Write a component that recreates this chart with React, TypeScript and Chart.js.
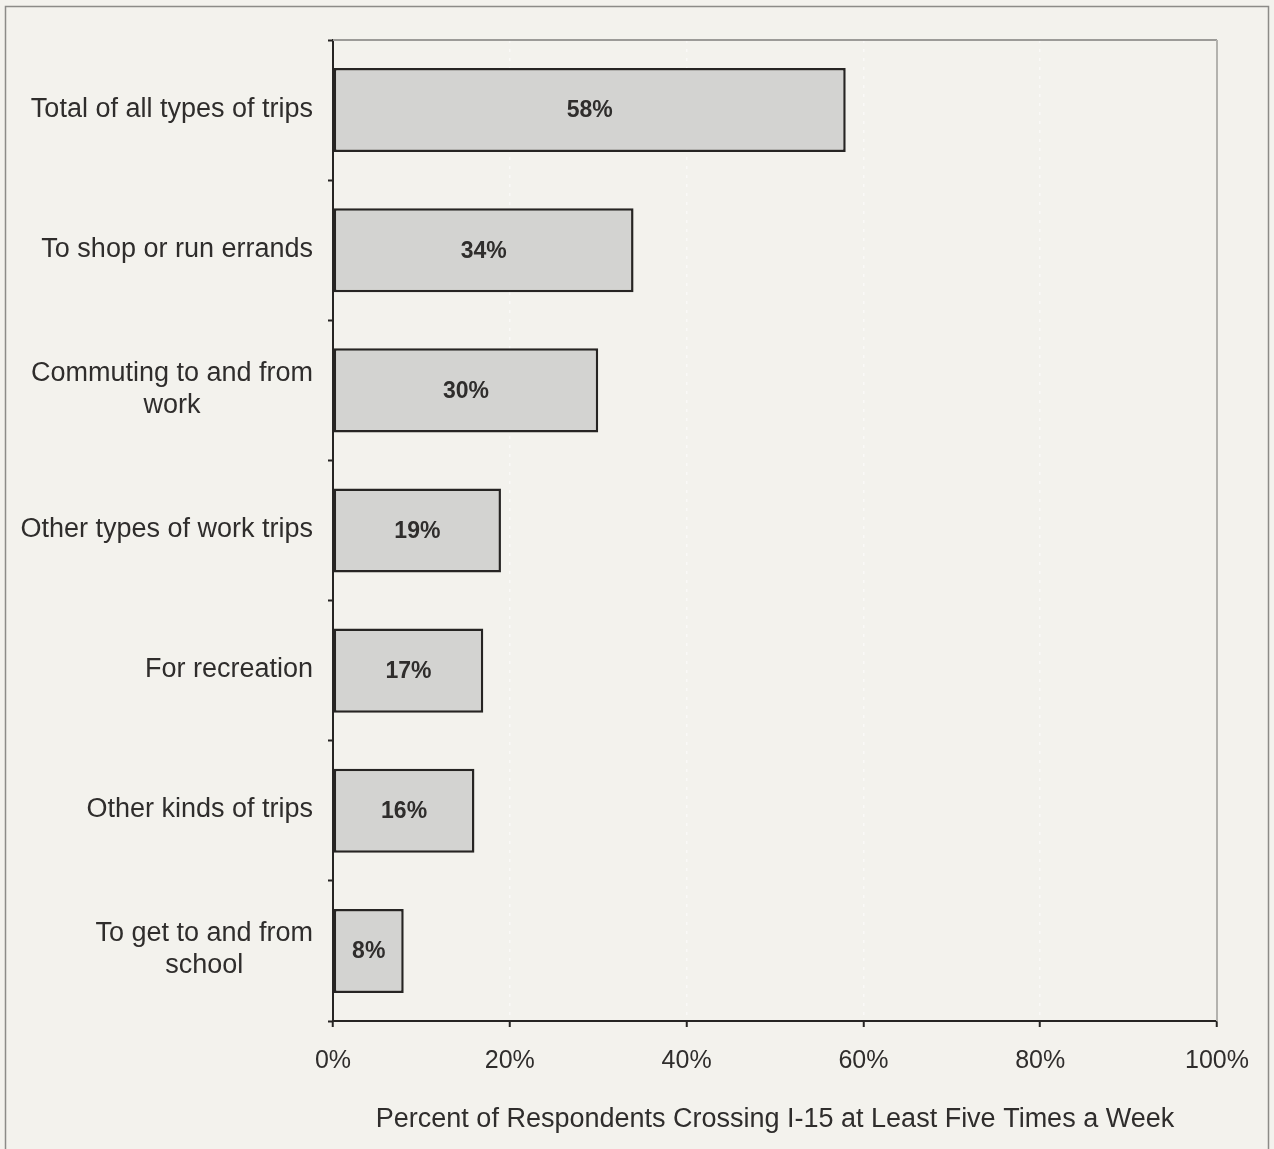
import React, { useEffect, useRef } from "react";
import { Chart, registerables } from "chart.js";

Chart.register(...registerables);

const categories: string[][] = [
  ["Total of all types of trips"],
  ["To shop or run errands"],
  ["Commuting to and from", "work"],
  ["Other types of work trips"],
  ["For recreation"],
  ["Other kinds of trips"],
  ["To get to and from", "school"],
];
const percentValues: number[] = [58, 34, 30, 19, 17, 16, 8];
const xTickValues: number[] = [0, 20, 40, 60, 80, 100];
const xAxisTitle = "Percent of Respondents Crossing I-15 at Least Five Times a Week";

const FONT = "'Liberation Sans', Arial, Helvetica, sans-serif";
const TEXT = "#2f2d2c";
const BG = "#f3f2ed";

export default function App() {
  const ref = useRef<HTMLCanvasElement | null>(null);

  useEffect(() => {
    if (!ref.current) return;

    const decor = {
      id: "decor",
      beforeDraw(chart: any) {
        const ctx = chart.ctx;
        ctx.save();
        ctx.fillStyle = BG;
        ctx.fillRect(0, 0, chart.width, chart.height);
        ctx.strokeStyle = "#8c8b88";
        ctx.lineWidth = 1.5;
        ctx.beginPath();
        ctx.moveTo(5.5, chart.height);
        ctx.lineTo(5.5, 6.5);
        ctx.lineTo(1268.5, 6.5);
        ctx.lineTo(1268.5, chart.height);
        ctx.stroke();
        ctx.restore();
      },
      beforeDatasetsDraw(chart: any) {
        const { ctx, chartArea: a } = chart;
        ctx.save();
        ctx.strokeStyle = "#9c9b98";
        ctx.lineWidth = 2;
        ctx.beginPath();
        ctx.moveTo(a.left, a.top);
        ctx.lineTo(a.right, a.top);
        ctx.stroke();
        ctx.strokeStyle = "#b3b2ae";
        ctx.beginPath();
        ctx.moveTo(a.right, a.top);
        ctx.lineTo(a.right, a.bottom);
        ctx.stroke();
        ctx.restore();
      },
      afterDatasetsDraw(chart: any) {
        const ctx = chart.ctx;
        const meta = chart.getDatasetMeta(0);
        ctx.save();
        ctx.fillStyle = TEXT;
        ctx.font = `bold 23px ${FONT}`;
        ctx.textAlign = "center";
        ctx.textBaseline = "middle";
        meta.data.forEach((bar: any, i: number) => {
          const cx = (bar.x + bar.base) / 2;
          ctx.fillText(percentValues[i] + "%", cx, bar.y + 1);
        });
        // category labels
        const yScale = chart.scales.y;
        ctx.font = `27px ${FONT}`;
        const lh = 32;
        const rightEdge = chart.chartArea.left - 20;
        categories.forEach((lines, i) => {
          const yc = yScale.getPixelForValue(i);
          const maxW = Math.max(...lines.map((l) => ctx.measureText(l).width));
          const cx = rightEdge - maxW / 2;
          const startY = yc - ((lines.length - 1) * lh) / 2 - 1;
          lines.forEach((l, k) => {
            ctx.fillText(l, cx, startY + k * lh);
          });
        });
        ctx.restore();
      },
    };

    const chart = new Chart(ref.current, {
      type: "bar",
      data: {
        labels: categories.map((c) => c.join(" ")),
        datasets: [
          {
            data: percentValues,
            backgroundColor: "#d3d3d1",
            borderColor: "#262423",
            borderWidth: 2.5,
            borderSkipped: false,
            barPercentage: 0.6,
            categoryPercentage: 1,
          },
        ],
      },
      options: {
        indexAxis: "y",
        responsive: false,
        animation: false,
        layout: { padding: { top: 40, right: 57, left: 0, bottom: 0 } },
        plugins: {
          legend: { display: false },
          tooltip: { enabled: false },
          title: { display: false },
        },
        scales: {
          x: {
            min: 0,
            max: 100,
            afterFit: (s: any) => {
              s.height = 128;
            },
            afterBuildTicks: (s: any) => {
              s.ticks = xTickValues.map((v) => ({ value: v }));
            },
            ticks: {
              callback: (v: any) => v + "%",
              font: { family: FONT, size: 25 },
              color: TEXT,
              padding: 19,
              maxRotation: 0,
            },
            grid: {
              color: "rgba(255,255,255,0.55)",
              tickColor: "#262423",
              tickLength: 6,
              tickWidth: 2,
              lineWidth: 1.5,
              drawTicks: true,
            },
            border: { color: "#262423", width: 2, dash: [3, 6] },
            title: {
              display: true,
              text: xAxisTitle,
              font: { family: FONT, size: 27 },
              color: TEXT,
              padding: { top: 0, bottom: 13 },
            },
          },
          y: {
            afterFit: (s: any) => {
              s.width = 333;
            },
            ticks: { display: false },
            grid: {
              offset: true,
              drawOnChartArea: false,
              color: "#262423",
              tickLength: 5,
              tickWidth: 2,
            },
            border: { color: "#262423", width: 2 },
          },
        },
      },
      plugins: [decor],
    } as any);

    return () => chart.destroy();
  }, []);

  return (
    <div style={{ position: "fixed", left: 0, top: 0, width: 1274, height: 1149, background: BG }}>
      <canvas ref={ref} width={1274} height={1149} style={{ display: "block" }} />
    </div>
  );
}
